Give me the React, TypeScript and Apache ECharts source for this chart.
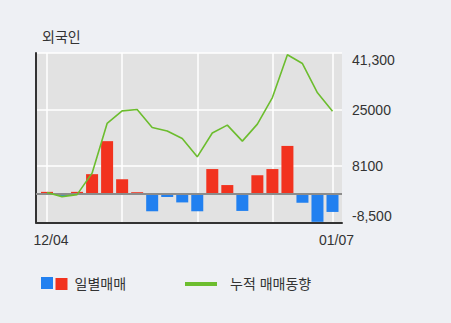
import React, { useEffect, useRef } from "react";
import * as echarts from "echarts";

const categories = [
  "12/04", "12/05", "12/06", "12/09", "12/10", "12/11", "12/12", "12/13", "12/16", "12/17",
  "12/18", "12/19", "12/20", "12/23", "12/24", "12/26", "12/27", "01/02", "01/03", "01/07",
];
const dailyNet = [
  500, -700, 500, 5700, 15400, 4200, 400, -5200, -1000, -2600,
  -5200, 7200, 2500, -5100, 5400, 7200, 14000, -2700, -8300, -5400,
];
const cumulative = [
  300, -900, -300, 6000, 20600, 24300, 24700, 19400, 18400, 16200,
  10800, 17800, 20100, 15400, 20400, 28200, 40800, 38200, 29600, 24200,
];
const yTicks = [-8500, 8100, 24700, 41300];
const yTickLabels = ["-8,500", "8100", "25000", "41,300"];

const FONT = "'Liberation Sans', 'Noto Sans CJK KR', sans-serif";
const RED = "#f2321e";
const BLUE = "#2180f0";
const GREEN = "#6cbd2e";

export default function App() {
  const ref = useRef<HTMLDivElement>(null);
  useEffect(() => {
    if (!ref.current) return;
    const chart = echarts.init(ref.current, undefined, { renderer: "svg" });
    const yMin = yTicks[0];
    const yMax = yTicks[yTicks.length - 1];
    const yInterval = yTicks[1] - yTicks[0];
    const fmtY = (v: number) => {
      let best = 0;
      for (let i = 0; i < yTicks.length; i++) {
        if (Math.abs(yTicks[i] - v) < Math.abs(yTicks[best] - v)) best = i;
      }
      return yTickLabels[best];
    };
    const gridIdx = (i: number) => i % 5 === 0 || i === categories.length - 1;
    chart.setOption({
      animation: false,
      backgroundColor: "#eef0f4",
      textStyle: { fontFamily: FONT },
      title: {
        text: "외국인",
        left: 37,
        top: 25,
        textStyle: { fontSize: 14, fontWeight: "normal", color: "#333", fontFamily: FONT },
      },
      grid: [
        { left: 36, top: 53, width: 306, height: 169.5, show: true, backgroundColor: "#e2e2e2", borderWidth: 0 },
        { left: 47, top: 53, width: 285.5, height: 169.5 },
      ],
      xAxis: [
        {
          gridIndex: 0, type: "value", min: 0, max: 1,
          axisLine: { show: true, onZero: false, lineStyle: { color: "#333", width: 2 } },
          axisTick: { show: false }, axisLabel: { show: false }, splitLine: { show: false },
        },
        {
          gridIndex: 1, type: "category", data: categories, boundaryGap: false,
          axisLine: { show: false }, axisTick: { show: false },
          axisLabel: {
            interval: (i: number) => i === 0 || i === categories.length - 1,
            color: "#333", fontSize: 14, fontFamily: FONT, margin: 10, padding: [0, 0, 0, 8],
          },
          splitLine: { show: true, interval: (i: number) => gridIdx(i), lineStyle: { color: "#ffffff", width: 1.5 } },
        },
      ],
      yAxis: [
        {
          gridIndex: 0, type: "value", position: "right", min: yMin, max: yMax, interval: yInterval,
          axisLine: { show: false }, axisTick: { show: false },
          axisLabel: {
            formatter: fmtY, color: "#333", fontSize: 14, fontFamily: FONT, margin: 10,
            verticalAlignMaxLabel: "top", verticalAlignMinLabel: "bottom",
          },
          splitLine: { show: true, lineStyle: { color: "#ffffff", width: 1.5 } },
        },
        {
          gridIndex: 0, type: "value", position: "left", min: yMin, max: yMax,
          axisLine: { show: true, onZero: false, lineStyle: { color: "#333", width: 2 } },
          axisTick: { show: false }, axisLabel: { show: false }, splitLine: { show: false },
        },
        {
          gridIndex: 1, type: "value", min: yMin, max: yMax, show: false,
          splitLine: { show: false },
        },
      ],
      legend: [
        {
          data: ["순매도"], left: 36, top: 272, itemWidth: 12, itemHeight: 12, icon: "rect",
          selectedMode: false, formatter: () => "", textStyle: { fontSize: 14 },
        },
        {
          data: ["일별매매"], left: 50.5, top: 272, itemWidth: 12, itemHeight: 12, icon: "rect",
          selectedMode: false, textStyle: { fontSize: 14, color: "#333", fontFamily: FONT, padding: [0, 0, 0, 2] },
        },
        {
          data: ["누적 매매동향"], left: 180, top: 272, itemWidth: 32, itemHeight: 4, icon: "rect",
          selectedMode: false, textStyle: { fontSize: 14, color: "#333", fontFamily: FONT, padding: [0, 0, 0, 8] },
        },
      ],
      series: [
        {
          name: "zero", type: "line", xAxisIndex: 0, yAxisIndex: 0, data: [], z: 3,
          markLine: {
            silent: true, symbol: "none", label: { show: false },
            lineStyle: { color: "#8c8c8c", width: 2, type: "solid" },
            data: [{ yAxis: 0 }],
          },
        },
        {
          name: "일별매매", type: "bar", xAxisIndex: 1, yAxisIndex: 2, barWidth: 12, barGap: "-100%",
          clip: false, z: 2, itemStyle: { color: RED },
          data: dailyNet.map((v) => (v >= 0 ? v : "-")),
        },
        {
          name: "순매도", type: "bar", xAxisIndex: 1, yAxisIndex: 2, barWidth: 12, barGap: "-100%",
          clip: false, z: 2, itemStyle: { color: BLUE },
          data: dailyNet.map((v) => (v < 0 ? v : "-")),
        },
        {
          name: "누적 매매동향", type: "line", xAxisIndex: 1, yAxisIndex: 2, data: cumulative,
          symbol: "none", z: 5, lineStyle: { color: GREEN, width: 1.6 }, itemStyle: { color: GREEN },
        },
      ],
    });
    return () => chart.dispose();
  }, []);
  return (
    <div
      ref={ref}
      style={{ position: "fixed", left: 0, top: 0, width: 451, height: 323, background: "#eef0f4" }}
    />
  );
}
